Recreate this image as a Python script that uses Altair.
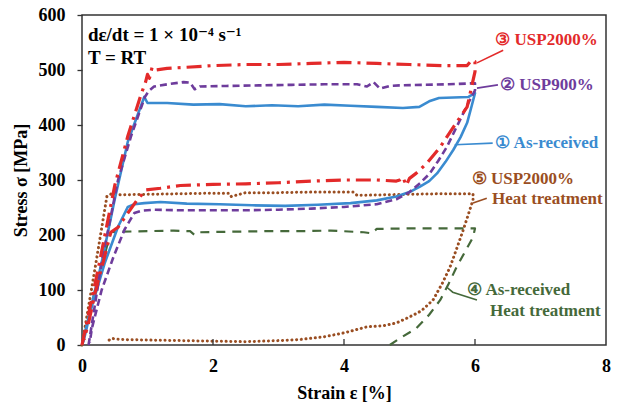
import altair as alt
import pandas as pd

# ---------------- data ----------------
# 1 As-received (blue, solid)
b_x = [0.0, 0.3, 0.5, 0.7, 0.95, 1.0, 1.3, 1.7, 2.1, 2.5, 2.9, 3.3, 3.7, 4.1, 4.5, 4.9, 5.15, 5.3, 5.45, 5.9, 6.0,
       5.95, 5.88, 5.78, 5.67, 5.55, 5.42, 5.3, 5.16, 5.0, 4.8, 4.5, 4.1, 3.6, 3.1, 2.6, 2.1, 1.6, 1.2, 0.95, 0.8,
       0.7, 0.55, 0.35, 0.15, 0.02]
b_y = [0, 150, 265, 370, 451, 440, 440, 437, 438, 434, 436, 434, 437, 435, 433, 431, 433, 443, 449, 451, 458,
       435, 404, 378, 355, 333, 312, 298, 288, 278, 270, 263, 258, 255, 253, 254, 256, 257, 260, 258, 256,
       251, 215, 150, 70, 5]

# 2 USP900% (purple, dashed)
p_x = [0.1, 0.3, 0.55, 0.75, 0.96, 1.02, 1.1, 1.3, 1.55, 1.65, 1.72, 1.8, 2.2, 2.7, 3.2, 3.7, 4.2, 4.35, 4.45,
       4.55, 4.7, 4.85, 5.2, 5.6, 6.0,
       6.0, 5.92, 5.82, 5.7, 5.57, 5.44, 5.31, 5.16, 5.0, 4.8, 4.5, 4.0, 3.5, 3.0, 2.5, 2.0, 1.5, 1.1, 0.9, 0.8,
       0.65, 0.48, 0.3, 0.15, 0.12]
p_y = [0, 150, 300, 380, 451, 462, 470, 474, 478, 477, 465, 470, 471, 472, 473, 474, 474, 470, 478,
       466, 471, 472, 473, 474, 476,
       463, 445, 421, 392, 360, 335, 312, 294, 278, 265, 256, 251, 248, 246, 245, 245, 245, 246, 244, 240,
       210, 160, 100, 30, 5]

# 3 USP2000% (red, dash-dot)
r_x = [0.0, 0.25, 0.5, 0.7, 0.9, 0.97, 1.0, 1.03, 1.07, 1.12, 1.3, 1.6, 2.0, 2.5, 3.0, 3.5, 4.0, 4.5, 5.0, 5.5,
       5.88, 5.95, 6.0, 6.0,
       5.88, 5.67, 5.47, 5.27, 5.1, 5.0, 4.95, 4.9, 4.85, 4.8, 4.5, 4.0, 3.5, 3.0, 2.5, 2.0, 1.5, 1.2, 0.98,
       0.85, 0.7, 0.55, 0.44, 0.3, 0.2, 0.1, 0.03]
r_y = [0, 140, 290, 380, 455, 478, 492, 485, 505, 500, 503, 505, 508, 510, 510, 512, 514, 512, 510, 508,
       508, 518, 515, 497,
       433, 396, 360, 331, 312, 303, 290, 305, 300, 298, 300, 300, 298, 295, 293, 292, 290, 285, 282,
       265, 240, 214, 205, 140, 95, 40, 10]

# 4 As-received, heat treatment (green, dashed)
g_x = [0.0, 0.2, 0.44, 0.6, 1.0, 1.4, 1.65, 1.72, 1.8, 2.3, 2.8, 3.3, 3.8, 4.3, 4.42, 4.5, 5.0, 5.5, 6.0,
       5.97, 5.85, 5.72, 5.6, 5.47, 5.3, 5.1, 4.85, 4.7]
g_y = [0, 100, 205, 206, 207, 208, 207, 200, 205, 206, 207, 207, 208, 205, 203, 211, 212, 212, 212,
       196, 170, 142, 112, 82, 55, 30, 12, 0]

# 5 USP2000%, heat treatment (brown, dotted)
n_x = [0.0, 0.2, 0.38, 0.45, 0.6, 1.0, 1.5, 2.0, 2.24, 2.28, 2.5, 3.0, 3.5, 4.0, 4.14, 4.2, 4.6, 5.0, 5.5, 5.97,
       5.97, 5.9, 5.82, 5.72, 5.62, 5.5, 5.36, 5.18, 5.0, 4.8, 4.6, 4.35, 4.0, 3.7, 3.33, 3.0, 2.5, 2.0, 1.5,
       1.0, 0.6, 0.45, 0.38]
n_y = [0, 140, 270, 275, 273, 274, 275, 276, 276, 270, 277, 277, 278, 278, 278, 272, 273, 274, 275, 275,
       264, 238, 209, 175, 142, 112, 82, 62, 51, 40, 35, 33, 22, 15, 10, 8, 6, 7, 8, 9, 10, 12, 6]

x_ticks = [0, 2, 4, 6, 8]
y_ticks = [0, 100, 200, 300, 400, 500, 600]
inner_x_ticks = [2, 4, 6]

# annotation labels (strain, stress anchors)
lab_text = ["③ USP2000%", "② USP900%", "① As-received", "⑤ USP2000%", "Heat treatment",
            "④ As-received", "Heat treatment"]
lab_x = [6.31, 6.38, 6.31, 5.95, 6.26, 5.88, 6.23]
lab_y = [555, 473, 367, 302, 265, 100, 62]
lab_color = ["#E32A2A", "#6E3C9C", "#3A8BD0", "#9A4E22", "#9A4E22", "#45693A", "#45693A"]

# leader lines
lead_id = ["r", "r", "p", "p", "b", "b", "n", "n", "g", "g", "g"]
lead_x = [6.03, 6.43, 6.03, 6.35, 5.69, 6.27, 5.97, 6.18, 5.57, 5.66, 6.03]
lead_y = [513, 536, 467, 473, 364, 367, 258, 267, 105, 96, 82]
lead_color = {"r": "#E32A2A", "p": "#6E3C9C", "b": "#3A8BD0", "n": "#9A4E22", "g": "#45693A"}

cond_text = ["dε/dt = 1 × 10⁻⁴ s⁻¹", "T = RT"]
cond_x = [0.09, 0.09]
cond_y = [564, 522]

FONT = "Liberation Serif, Times New Roman, DejaVu Serif, serif"

xs = alt.Scale(domain=[0, 8], nice=False, padding=0, zero=False)
ys = alt.Scale(domain=[0, 600], nice=False, padding=0)


def curve_df(xv, yv):
    return pd.DataFrame({"strain": xv, "stress": yv, "i": list(range(len(xv)))})


def line(df, color, width, dash=None, cap="butt"):
    kw = dict(color=color, strokeWidth=width, strokeCap=cap, strokeJoin="round")
    if dash:
        kw["strokeDash"] = dash
    return alt.Chart(df).mark_line(**kw).encode(
        x=alt.X("strain:Q", scale=xs,
                axis=alt.Axis(values=x_ticks, format="d", title="Strain ε [%]", grid=False, ticks=False,
                              domain=False, labelPadding=12, titlePadding=9, labelFlush=False)),
        y=alt.Y("stress:Q", scale=ys,
                axis=alt.Axis(values=y_ticks, format="d", title="Stress σ [MPa]", grid=False, tickSize=5,
                              domain=False, labelPadding=12, titlePadding=8, labelFlush=False)),
        order="i:Q",
    )


brown = line(curve_df(n_x, n_y), "#9A4E22", 3, [0.1, 4.6], "round")
green = line(curve_df(g_x, g_y), "#45693A", 2.2, [9, 7])
blue = line(curve_df(b_x, b_y), "#3A8BD0", 2.6)
purple = line(curve_df(p_x, p_y), "#6E3C9C", 2.6, [7, 4])
red = line(curve_df(r_x, r_y), "#E32A2A", 3.2, [15, 6, 3, 6])

ticks_in = alt.Chart(pd.DataFrame({"t": inner_x_ticks})).mark_rule(color="#333333", strokeWidth=1.3).encode(
    x=alt.X("t:Q", scale=xs), y=alt.value(330), y2=alt.value(324))

leads = []
for k in ["r", "p", "b", "n", "g"]:
    sel = [j for j, v in enumerate(lead_id) if v == k]
    d = pd.DataFrame({"strain": [lead_x[j] for j in sel], "stress": [lead_y[j] for j in sel],
                      "i": list(range(len(sel)))})
    leads.append(alt.Chart(d).mark_line(color=lead_color[k], strokeWidth=1.6).encode(
        x=alt.X("strain:Q", scale=xs), y=alt.Y("stress:Q", scale=ys), order="i:Q"))

lab_df = pd.DataFrame({"strain": lab_x, "stress": lab_y, "txt": lab_text, "c": lab_color})
labels = alt.Chart(lab_df).mark_text(align="left", baseline="middle", font=FONT, fontWeight="bold",
                                     fontSize=17).encode(
    x=alt.X("strain:Q", scale=xs), y=alt.Y("stress:Q", scale=ys), text="txt:N",
    color=alt.Color("c:N", scale=None))

cond_df = pd.DataFrame({"strain": cond_x, "stress": cond_y, "txt": cond_text})
cond = alt.Chart(cond_df).mark_text(align="left", baseline="middle", font=FONT, fontWeight="bold",
                                    fontSize=19, color="black").encode(
    x=alt.X("strain:Q", scale=xs), y=alt.Y("stress:Q", scale=ys), text="txt:N")

chart = alt.layer(brown, green, blue, purple, red, ticks_in, *leads, labels, cond).properties(
    width=524, height=330,
    autosize=alt.AutoSizeParams(type="none"),
    padding={"left": 82, "top": 15, "right": 14, "bottom": 68},
    background="white",
).configure_view(stroke="#333333", strokeWidth=1.5).configure_axis(
    labelFont=FONT, labelFontWeight="bold", labelFontSize=18, labelColor="black",
    titleFont=FONT, titleFontWeight="bold", titleFontSize=18, titleColor="black",
    tickColor="#333333", tickWidth=1.3,
)

chart.save("out.html", embed_options={"renderer": "svg", "actions": False})
